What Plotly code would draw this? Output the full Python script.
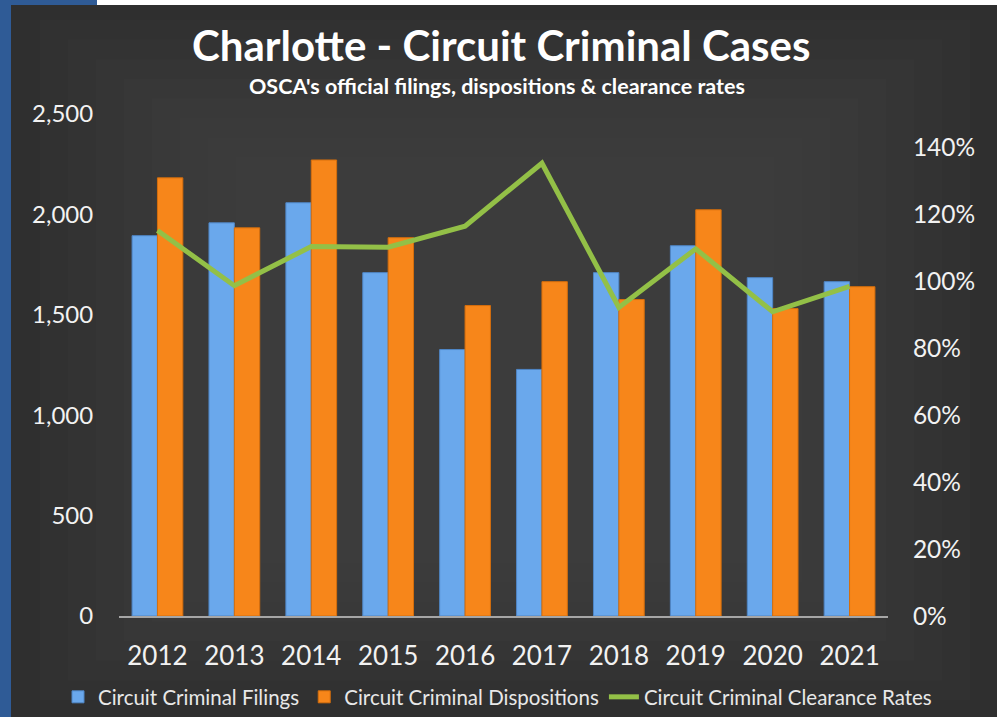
import plotly.graph_objects as go

years = ["2012", "2013", "2014", "2015", "2016", "2017", "2018", "2019", "2020", "2021"]
filings = [1894, 1958, 2058, 1710, 1327, 1228, 1710, 1844, 1685, 1665]
dispositions = [2182, 1933, 2271, 1884, 1546, 1665, 1576, 2023, 1531, 1640]
clearance = [115.2, 98.7, 110.4, 110.2, 116.5, 135.3, 92.2, 109.7, 90.9, 98.5]
pct_ticks = [0, 20, 40, 60, 80, 100, 120, 140]

FONT = "Lato"
W, H = 997, 717
L, R, T, B = 119, 109, 114, 101
pw, ph = W - L - R, H - T - B

def px(x):
    return (x - L) / pw

def py(y):
    return (H - B - y) / ph

fig = go.Figure()
fig.add_trace(go.Bar(x=years, y=filings, name="Circuit Criminal Filings",
                     marker=dict(color="#6aa8ec", line=dict(color="#4f86c6", width=1))))
fig.add_trace(go.Bar(x=years, y=dispositions, name="Circuit Criminal Dispositions",
                     marker=dict(color="#f7861a", line=dict(color="#d56e0c", width=1))))
fig.add_trace(go.Scatter(x=years, y=clearance, name="Circuit Criminal Clearance Rates",
                         yaxis="y2", mode="lines", line=dict(color="#93c047", width=5)))

shapes = [
    dict(type="rect", xref="paper", yref="paper", x0=px(0), x1=px(W), y0=py(H), y1=py(0),
         fillcolor="#2f5b96", line=dict(width=0), layer="below"),
    dict(type="rect", xref="paper", yref="paper", x0=px(97), x1=px(W), y0=py(5), y1=py(0),
         fillcolor="#ffffff", line=dict(width=0), layer="below"),
    dict(type="rect", xref="paper", yref="paper", x0=px(11), x1=px(W), y0=py(H), y1=py(5),
         fillcolor="#2f2f2f", line=dict(width=0), layer="below"),
]
# soft lighter centre to mimic the radial gradient
for i in range(8):
    m = i * 28
    shapes.append(dict(type="rect", xref="paper", yref="paper",
                       x0=px(40 + m), x1=px(970 - m), y0=py(700 - m * 0.7), y1=py(20 + m * 0.7),
                       fillcolor="rgba(90,90,90,0.07)", line=dict(width=0), layer="below"))

fig.update_layout(
    width=W, height=H,
    margin=dict(l=L, r=R, t=T, b=B, autoexpand=False),
    paper_bgcolor="#2f2f2f", plot_bgcolor="rgba(0,0,0,0)",
    barmode="group", bargap=0.34, bargroupgap=0.0,
    font=dict(family=FONT, color="#f2f2f2"),
    shapes=shapes,
    showlegend=True,
    legend=dict(orientation="h", x=px(58), xanchor="left", y=py(697), yanchor="middle",
                font=dict(size=20.5, color="#e8e8e8"), bgcolor="rgba(0,0,0,0)",
                itemwidth=30, tracegroupgap=0),
    xaxis=dict(showgrid=False, showline=True, linecolor="#a6a6a6", linewidth=1.5,
               ticks="outside", ticklen=16, tickcolor="rgba(0,0,0,0)",
               tickfont=dict(size=26, color="#f2f2f2")),
    yaxis=dict(range=[0, 2500], dtick=500, tickformat=",", showgrid=False, zeroline=False,
               ticks="outside", ticklen=20, tickcolor="rgba(0,0,0,0)",
               tickfont=dict(size=24, color="#f2f2f2")),
    yaxis2=dict(range=[0, 150], overlaying="y", side="right", tickvals=pct_ticks,
                ticktext=[f"{v}%" for v in pct_ticks], showgrid=False, zeroline=False,
                ticks="outside", ticklen=19, tickcolor="rgba(0,0,0,0)",
                tickfont=dict(size=24.5, color="#f2f2f2")),
    annotations=[
        dict(text="<b>Charlotte - Circuit Criminal Cases</b>", xref="paper", yref="paper",
             x=px(501), y=py(45), xanchor="center", yanchor="middle", showarrow=False,
             font=dict(size=42, color="#ffffff", family=FONT)),
        dict(text="<b>OSCA's official filings, dispositions &amp; clearance rates</b>",
             xref="paper", yref="paper", x=px(497), y=py(86), xanchor="center",
             yanchor="middle", showarrow=False, font=dict(size=21.5, color="#ffffff", family=FONT)),
    ],
)

fig.write_html("out.html", config={"displayModeBar": False},
               post_script="document.body.style.margin='0';document.body.style.overflow='hidden';")
